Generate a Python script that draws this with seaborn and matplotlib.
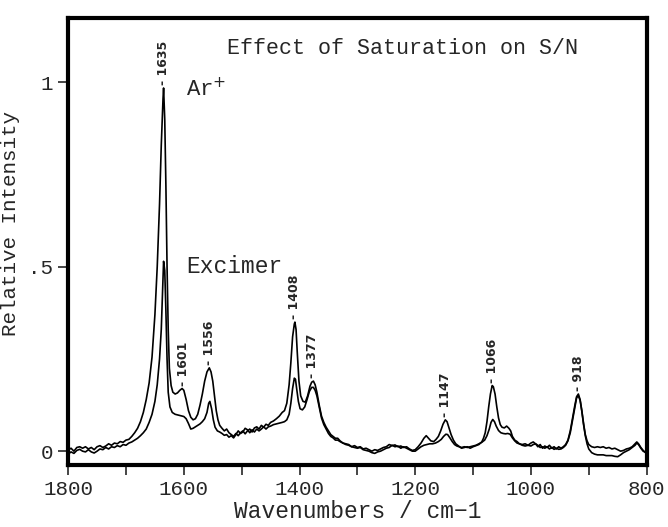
import matplotlib

matplotlib.use("Agg")

import matplotlib.pyplot as plt
import pandas as pd
import seaborn as sns

AR_WN = [
    1800, 1795, 1790, 1785, 1780, 1775, 1770, 1765, 1760, 1755, 1750, 1745, 1740, 1735, 1730,
    1725, 1720, 1715, 1710, 1705, 1700, 1695, 1690, 1685, 1680, 1675, 1670, 1665, 1660, 1655,
    1650, 1646, 1642, 1639, 1636, 1635, 1633, 1631, 1629, 1627, 1625, 1622, 1619, 1615, 1611,
    1607, 1603, 1600, 1596, 1592, 1588, 1584, 1580, 1576, 1572, 1568, 1564, 1560, 1556, 1553,
    1550, 1547, 1544, 1541, 1538, 1534, 1530, 1526, 1522, 1518, 1514, 1510, 1506, 1502, 1498,
    1494, 1490, 1486, 1482, 1478, 1474, 1470, 1466, 1462, 1458, 1454, 1450, 1445, 1440, 1435,
    1430, 1426, 1422, 1418, 1415, 1412, 1409, 1408, 1406, 1404, 1401, 1398, 1394, 1390, 1386,
    1382, 1379, 1376, 1373, 1370, 1366, 1362, 1358, 1354, 1350, 1346, 1342, 1338, 1334, 1330,
    1325, 1320, 1315, 1310, 1305, 1300, 1295, 1290, 1285, 1280, 1275, 1270, 1265, 1260, 1255,
    1250, 1245, 1240, 1235, 1230, 1225, 1220, 1215, 1210, 1205, 1200, 1195, 1190, 1185, 1181,
    1177, 1173, 1168, 1164, 1160, 1156, 1152, 1148, 1145, 1142, 1138, 1134, 1130, 1125, 1120,
    1115, 1110, 1105, 1100, 1095, 1090, 1085, 1082, 1079, 1076, 1073, 1070, 1067, 1065, 1062,
    1059, 1056, 1053, 1050, 1046, 1042, 1038, 1035, 1032, 1028, 1024, 1020, 1015, 1010, 1005,
    1000, 996, 992, 988, 984, 980, 976, 972, 968, 964, 960, 956, 952, 948, 944,
    940, 936, 932, 928, 924, 921, 918, 915, 912, 909, 906, 903, 900, 895, 890,
    885, 880, 875, 870, 865, 860, 855, 850, 845, 840, 835, 830, 825, 820, 817,
    814, 810, 806, 802, 800,
]
AR_INT = [
    0.003, 0.008, 0.000, 0.010, 0.012, 0.008, 0.012, 0.006, 0.010, 0.004, 0.012, 0.015, 0.010, 0.014, 0.020,
    0.016, 0.022, 0.020, 0.026, 0.024, 0.030, 0.032, 0.040, 0.050, 0.062, 0.080, 0.105, 0.140, 0.185, 0.255,
    0.370, 0.500, 0.670, 0.830, 0.955, 0.985, 0.900, 0.720, 0.500, 0.330, 0.225, 0.178, 0.160, 0.155, 0.158,
    0.165, 0.170, 0.165, 0.140, 0.110, 0.092, 0.085, 0.088, 0.100, 0.125, 0.155, 0.190, 0.215, 0.226, 0.215,
    0.190, 0.150, 0.110, 0.085, 0.070, 0.062, 0.055, 0.060, 0.050, 0.045, 0.040, 0.048, 0.042, 0.050, 0.055,
    0.047, 0.055, 0.060, 0.052, 0.063, 0.066, 0.060, 0.070, 0.065, 0.073, 0.070, 0.078, 0.082, 0.088, 0.095,
    0.105, 0.110, 0.130, 0.180, 0.240, 0.310, 0.345, 0.350, 0.330, 0.270, 0.190, 0.150, 0.135, 0.133, 0.150,
    0.176, 0.187, 0.190, 0.180, 0.160, 0.125, 0.095, 0.078, 0.065, 0.055, 0.045, 0.040, 0.035, 0.035, 0.028,
    0.022, 0.020, 0.018, 0.012, 0.015, 0.010, 0.012, 0.006, 0.008, 0.004, 0.000, 0.004, 0.002, 0.006, 0.010,
    0.012, 0.018, 0.015, 0.017, 0.012, 0.014, 0.010, 0.012, 0.006, 0.002, 0.004, 0.012, 0.022, 0.035, 0.042,
    0.035, 0.028, 0.026, 0.032, 0.040, 0.055, 0.073, 0.085, 0.080, 0.065, 0.045, 0.030, 0.020, 0.014, 0.008,
    0.010, 0.012, 0.008, 0.012, 0.015, 0.018, 0.025, 0.035, 0.050, 0.080, 0.120, 0.155, 0.178, 0.175, 0.155,
    0.120, 0.090, 0.072, 0.065, 0.063, 0.068, 0.062, 0.055, 0.040, 0.030, 0.026, 0.020, 0.018, 0.020, 0.016,
    0.022, 0.025, 0.020, 0.012, 0.018, 0.008, 0.014, 0.010, 0.016, 0.008, 0.012, 0.006, 0.012, 0.008, 0.012,
    0.018, 0.030, 0.055, 0.090, 0.125, 0.148, 0.155, 0.140, 0.110, 0.075, 0.045, 0.028, 0.018, 0.012, 0.010,
    0.012, 0.010, 0.012, 0.008, 0.010, 0.006, 0.008, 0.004, 0.000, 0.002, 0.006, 0.008, 0.012, 0.020, 0.025,
    0.020, 0.010, 0.002, -0.004, -0.005,
]

EX_WN = [
    1800, 1795, 1790, 1785, 1780, 1775, 1770, 1765, 1760, 1755, 1750, 1745, 1740, 1735, 1730,
    1725, 1720, 1715, 1710, 1705, 1700, 1695, 1690, 1685, 1680, 1675, 1670, 1665, 1660, 1655,
    1650, 1646, 1642, 1639, 1637, 1635, 1633, 1631, 1629, 1627, 1624, 1620, 1615, 1610, 1605,
    1600, 1596, 1592, 1588, 1584, 1580, 1576, 1572, 1568, 1564, 1560, 1557, 1555, 1552, 1549,
    1546, 1542, 1538, 1534, 1530, 1526, 1522, 1518, 1514, 1510, 1506, 1502, 1498, 1494, 1490,
    1486, 1482, 1478, 1474, 1470, 1466, 1462, 1458, 1454, 1450, 1445, 1440, 1435, 1430, 1426,
    1422, 1418, 1415, 1412, 1409, 1407, 1405, 1402, 1399, 1395, 1391, 1387, 1383, 1379, 1376,
    1373, 1370, 1366, 1362, 1358, 1354, 1350, 1346, 1342, 1338, 1334, 1330, 1325, 1320, 1315,
    1310, 1305, 1300, 1295, 1290, 1285, 1280, 1275, 1270, 1265, 1260, 1255, 1250, 1245, 1240,
    1235, 1230, 1225, 1220, 1215, 1210, 1205, 1200, 1195, 1190, 1185, 1180, 1175, 1170, 1165,
    1160, 1155, 1151, 1147, 1144, 1140, 1136, 1132, 1128, 1124, 1120, 1115, 1110, 1105, 1100,
    1095, 1090, 1085, 1080, 1076, 1072, 1069, 1066, 1063, 1060, 1056, 1052, 1048, 1044, 1040,
    1036, 1032, 1028, 1024, 1020, 1015, 1010, 1005, 1000, 996, 992, 988, 984, 980, 976,
    972, 968, 964, 960, 956, 952, 948, 944, 940, 936, 932, 928, 924, 921, 918,
    915, 912, 909, 906, 903, 900, 895, 890, 885, 880, 875, 870, 865, 860, 855,
    850, 845, 840, 835, 830, 825, 820, 817, 814, 810, 806, 802, 800,
]
EX_INT = [
    -0.008, -0.002, -0.006, 0.002, 0.005, 0.000, -0.002, 0.004, -0.002, -0.005, 0.000, 0.006, 0.004, 0.010, 0.006,
    0.012, 0.010, 0.015, 0.012, 0.018, 0.016, 0.022, 0.025, 0.030, 0.035, 0.042, 0.050, 0.060, 0.078, 0.100,
    0.135, 0.180, 0.250, 0.330, 0.420, 0.515, 0.490, 0.380, 0.250, 0.160, 0.120, 0.105, 0.100, 0.098, 0.096,
    0.094, 0.088, 0.075, 0.060, 0.062, 0.066, 0.070, 0.074, 0.080, 0.088, 0.105, 0.130, 0.135, 0.115, 0.085,
    0.065, 0.055, 0.052, 0.048, 0.043, 0.045, 0.038, 0.042, 0.036, 0.045, 0.055, 0.048, 0.052, 0.062, 0.058,
    0.050, 0.058, 0.052, 0.060, 0.055, 0.060, 0.066, 0.060, 0.066, 0.068, 0.072, 0.074, 0.076, 0.078, 0.080,
    0.085, 0.100, 0.130, 0.170, 0.198, 0.195, 0.170, 0.135, 0.115, 0.112, 0.120, 0.140, 0.162, 0.173, 0.173,
    0.165, 0.150, 0.120, 0.090, 0.072, 0.060, 0.048, 0.040, 0.036, 0.030, 0.030, 0.026, 0.022, 0.018, 0.016,
    0.012, 0.010, 0.008, 0.010, 0.004, 0.002, 0.000, -0.004, -0.006, -0.002, 0.000, 0.004, 0.008, 0.010, 0.016,
    0.012, 0.014, 0.008, 0.012, 0.008, 0.004, 0.000, 0.000, 0.006, 0.012, 0.016, 0.018, 0.020, 0.020, 0.022,
    0.026, 0.032, 0.040, 0.046, 0.045, 0.036, 0.026, 0.018, 0.014, 0.012, 0.010, 0.012, 0.010, 0.012, 0.014,
    0.016, 0.020, 0.024, 0.030, 0.042, 0.060, 0.078, 0.086, 0.080, 0.068, 0.056, 0.050, 0.048, 0.047, 0.048,
    0.046, 0.036, 0.028, 0.022, 0.020, 0.016, 0.014, 0.016, 0.014, 0.018, 0.020, 0.016, 0.010, 0.012, 0.008,
    0.012, 0.006, 0.010, 0.005, 0.008, 0.005, 0.006, 0.010, 0.016, 0.028, 0.050, 0.085, 0.120, 0.145, 0.150,
    0.138, 0.108, 0.072, 0.042, 0.020, 0.006, -0.004, -0.008, -0.010, -0.010, -0.010, -0.012, -0.012, -0.012, -0.014,
    -0.015, -0.010, -0.004, 0.000, 0.004, 0.010, 0.016, 0.022, 0.018, 0.008, 0.000, -0.003, -0.004,
]

PEAK_WN = [1635, 1601, 1556, 1408, 1377, 1147, 1066, 918]
PEAK_INT = [0.985, 0.170, 0.226, 0.350, 0.190, 0.085, 0.178, 0.155]

X_TICKS = [1800, 1700, 1600, 1500, 1400, 1300, 1200, 1100, 1000, 900, 800]
X_TICK_LABELS = ["1800", "", "1600", "", "1400", "", "1200", "", "1000", "", "800"]
Y_TICKS = [0, 0.5, 1]
Y_TICK_LABELS = ["0", ".5", "1"]

MONO = ["Liberation Mono", "DejaVu Sans Mono"]


def main() -> None:
    df = pd.concat(
        [
            pd.DataFrame({"wn": AR_WN, "intensity": AR_INT, "laser": "Ar+"}),
            pd.DataFrame({"wn": EX_WN, "intensity": EX_INT, "laser": "Excimer"}),
        ],
        ignore_index=True,
    )

    sns.set_theme(style="ticks")
    plt.rcParams["font.family"] = MONO

    fig = plt.figure(figsize=(6.68, 5.27), dpi=100)
    ax = fig.add_axes([0.102, 0.118, 0.866, 0.848])

    sns.lineplot(
        data=df,
        x="wn",
        y="intensity",
        hue="laser",
        palette=["black", "black"],
        estimator=None,
        sort=False,
        legend=False,
        linewidth=1.2,
        ax=ax,
    )

    ax.set_xlim(1800, 800)
    ax.set_ylim(-0.037, 1.175)
    ax.set_xticks(X_TICKS)
    ax.set_xticklabels(X_TICK_LABELS)
    ax.set_yticks(Y_TICKS)
    ax.set_yticklabels(Y_TICK_LABELS)
    ax.tick_params(direction="out", length=7, width=1.2, labelsize=15, pad=4)
    for spine in ax.spines.values():
        spine.set_visible(True)
        spine.set_linewidth(3)
        spine.set_color("black")

    ax.set_xlabel("Wavenumbers / cm\u22121", fontsize=16.5, va="center")
    ax.xaxis.set_label_coords(0.5, -0.104)
    ax.set_ylabel("Relative Intensity", fontsize=15)
    ax.yaxis.set_label_coords(-0.083, 0.54)

    ax.text(0.274, 0.931, "Effect of Saturation on S/N", transform=ax.transAxes,
            fontsize=15.6, ha="left", va="center")
    ax.text(1597, 0.98, "Ar$^{+}$", fontsize=16, ha="left", va="center")
    ax.text(1595, 0.50, "Excimer", fontsize=16.5, ha="left", va="center")

    for wn, val in zip(PEAK_WN, PEAK_INT):
        ax.text(wn, val + 0.008, f"- {wn}", rotation=90, ha="center", va="bottom",
                fontsize=9, fontweight="bold", family=["DejaVu Sans"])

    fig.savefig("out.png", dpi=100)
    plt.close(fig)


if __name__ == "__main__":
    main()
